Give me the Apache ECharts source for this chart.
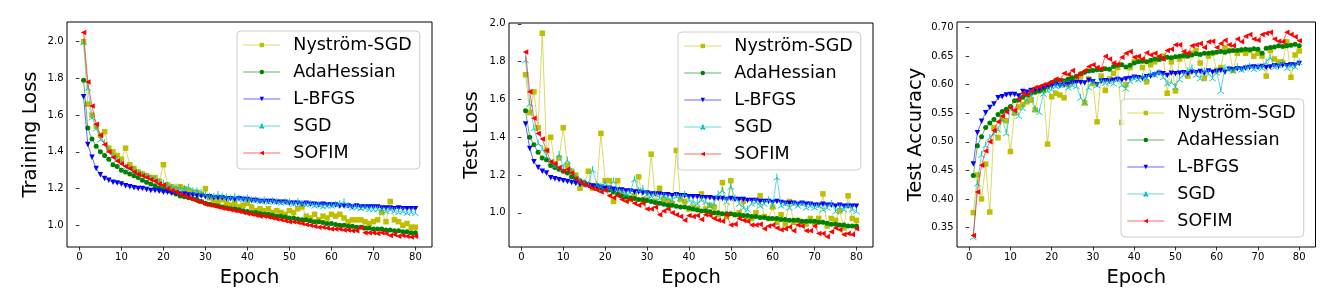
<!DOCTYPE html>
<html>
<head>
<meta charset="utf-8">
<script src="https://cdn.jsdelivr.net/npm/echarts@6/dist/echarts.min.js"></script>
<style>html,body{margin:0;padding:0;background:#fff;}#c{width:1336px;height:308px;}</style>
</head>
<body>
<div id="c"></div>
<script>
const epochs = [1,2,3,4,5,6,7,8,9,10,11,12,13,14,15,16,17,18,19,20,21,22,23,24,25,26,27,28,29,30,31,32,33,34,35,36,37,38,39,40,41,42,43,44,45,46,47,48,49,50,51,52,53,54,55,56,57,58,59,60,61,62,63,64,65,66,67,68,69,70,71,72,73,74,75,76,77,78,79,80];
const seriesNames = ['Nyström-SGD','AdaHessian','L-BFGS','SGD','SOFIM'];
const xTicks = [0,10,20,30,40,50,60,70,80];
const yTicksTrain = [1.0,1.2,1.4,1.6,1.8,2.0];
const yTicksTest = [1.0,1.2,1.4,1.6,1.8,2.0];
const yTicksAcc = [0.35,0.40,0.45,0.50,0.55,0.60,0.65,0.70];
const panelTitles = ['Training Loss','Test Loss','Test Accuracy'];
const xTitle = 'Epoch';

// Training loss
const trainNys = [2.00,1.66,1.60,1.54,1.49,1.51,1.42,1.40,1.38,1.36, 1.42,1.33,1.31,1.29,1.28,1.27,1.26,1.26,1.24,1.33, 1.22,1.21,1.20,1.21,1.20,1.19,1.18,1.18,1.17,1.20, 1.15,1.14,1.13,1.14,1.12,1.11,1.12,1.10,1.11,1.12, 1.10,1.08,1.09,1.08,1.09,1.07,1.08,1.07,1.06,1.08, 1.07,1.09,1.10,1.05,1.04,1.06,1.03,1.05,1.04,1.06, 1.05,1.06,1.04,1.02,1.03,1.03,1.03,1.02,1.01,1.02, 1.03,1.07,1.02,1.13,1.03,1.02,1.00,1.01,0.99,0.99];
const trainAda = [1.79,1.53,1.47,1.43,1.40,1.38,1.36,1.33,1.32,1.30, 1.29,1.28,1.27,1.26,1.245,1.235,1.225,1.215,1.205,1.20, 1.19,1.18,1.17,1.16,1.155,1.15,1.145,1.14,1.13,1.12, 1.115,1.11,1.105,1.10,1.095,1.09,1.09,1.085,1.08,1.075, 1.07,1.07,1.065,1.06,1.06,1.055,1.05,1.05,1.045,1.04, 1.04,1.035,1.03,1.03,1.025,1.02,1.02,1.015,1.01,1.01, 1.005,1.00,1.00,0.995,0.995,0.99,0.99,0.985,0.985,0.98, 0.98,0.98,0.975,0.975,0.97,0.97,0.965,0.965,0.96,0.96];
const trainLbfgs = [1.70,1.44,1.37,1.31,1.275,1.255,1.245,1.235,1.23,1.225, 1.215,1.21,1.205,1.20,1.20,1.195,1.19,1.19,1.185,1.18, 1.18,1.175,1.175,1.17,1.17,1.165,1.165,1.16,1.16,1.155, 1.155,1.15,1.15,1.15,1.145,1.145,1.14,1.145,1.14,1.14, 1.135,1.135,1.13,1.13,1.13,1.13,1.125,1.125,1.125,1.12, 1.12,1.12,1.115,1.12,1.115,1.115,1.11,1.115,1.11,1.11, 1.11,1.105,1.105,1.105,1.10,1.105,1.10,1.10,1.10,1.10, 1.10,1.095,1.095,1.095,1.09,1.095,1.09,1.09,1.09,1.09];
const trainSgd = [2.00,1.75,1.59,1.53,1.47,1.45,1.41,1.38,1.36,1.34, 1.32,1.31,1.30,1.29,1.28,1.27,1.26,1.25,1.24,1.23, 1.22,1.21,1.21,1.20,1.20,1.21,1.19,1.19,1.18,1.17, 1.16,1.16,1.17,1.16,1.155,1.15,1.16,1.15,1.145,1.15, 1.14,1.14,1.135,1.14,1.13,1.135,1.13,1.125,1.13,1.13, 1.12,1.13,1.12,1.115,1.12,1.11,1.115,1.105,1.11,1.11, 1.115,1.12,1.13,1.11,1.10,1.10,1.095,1.10,1.09,1.09, 1.09,1.085,1.08,1.09,1.08,1.075,1.08,1.07,1.075,1.07];
const trainSofim = [2.05,1.78,1.65,1.55,1.49,1.44,1.40,1.37,1.35,1.335, 1.32,1.31,1.29,1.28,1.27,1.26,1.25,1.24,1.225,1.22, 1.20,1.19,1.18,1.17,1.16,1.15,1.14,1.13,1.125,1.115, 1.11,1.105,1.10,1.095,1.09,1.085,1.08,1.075,1.07,1.065, 1.06,1.055,1.05,1.05,1.045,1.04,1.035,1.03,1.025,1.02, 1.02,1.015,1.01,1.005,1.00,0.995,0.99,0.99,0.985,0.98, 0.98,0.98,0.975,0.975,0.97,0.97,0.99,0.96,0.96,0.96, 0.955,0.96,0.955,0.945,0.95,0.94,0.945,0.94,0.937,0.94];

// Test loss
const testNys = [1.73,1.53,1.64,1.45,1.95,1.33,1.40,1.26,1.29,1.45, 1.25,1.22,1.20,1.13,1.15,1.22,1.13,1.14,1.42,1.17, 1.17,1.06,1.17,1.10,1.08,1.07,1.09,1.19,1.06,1.07, 1.31,1.06,1.13,1.07,1.06,1.05,1.33,1.07,1.06,1.02, 1.03,1.02,1.10,1.02,1.04,1.03,0.99,1.16,0.98,1.17, 0.99,1.00,1.06,0.96,0.97,1.00,1.09,0.98,0.97,1.03, 0.95,0.99,0.94,1.06,0.95,0.96,0.95,0.94,0.97,0.95, 0.97,1.10,0.93,0.97,0.96,1.01,0.92,1.09,0.97,0.96];
const testAda = [1.54,1.40,1.36,1.32,1.29,1.28,1.25,1.24,1.23,1.22, 1.21,1.19,1.18,1.17,1.16,1.15,1.145,1.14,1.13,1.125, 1.12,1.11,1.10,1.09,1.085,1.08,1.075,1.07,1.07,1.065, 1.06,1.055,1.05,1.045,1.04,1.04,1.035,1.03,1.03,1.025, 1.02,1.015,1.01,1.01,1.005,1.00,1.00,0.995,0.995,0.995, 0.99,0.99,0.985,0.985,0.98,0.98,0.975,0.975,0.97,0.97, 0.97,0.965,0.965,0.96,0.96,0.96,0.955,0.955,0.955,0.955, 0.95,0.95,0.945,0.94,0.94,0.935,0.935,0.93,0.93,0.93];
const testLbfgs = [1.47,1.34,1.27,1.24,1.22,1.21,1.185,1.18,1.175,1.17, 1.165,1.16,1.155,1.15,1.15,1.145,1.14,1.14,1.135,1.13, 1.13,1.125,1.12,1.12,1.115,1.115,1.11,1.11,1.105,1.105, 1.10,1.10,1.10,1.095,1.095,1.09,1.095,1.09,1.09,1.085, 1.085,1.085,1.08,1.08,1.08,1.075,1.075,1.075,1.07,1.075, 1.07,1.07,1.07,1.065,1.065,1.065,1.06,1.06,1.06,1.055, 1.06,1.055,1.05,1.05,1.05,1.045,1.05,1.045,1.045,1.04, 1.04,1.045,1.04,1.04,1.035,1.04,1.035,1.035,1.035,1.035];
const testSgd = [1.81,1.58,1.45,1.37,1.34,1.30,1.27,1.25,1.31,1.24, 1.28,1.22,1.19,1.17,1.16,1.15,1.23,1.15,1.14,1.16, 1.13,1.17,1.12,1.11,1.10,1.11,1.18,1.12,1.13,1.10, 1.09,1.10,1.08,1.09,1.08,1.07,1.09,1.08,1.10,1.07, 1.06,1.05,1.07,1.06,1.04,1.05,1.10,1.12,1.06,1.14, 1.08,1.05,1.03,1.02,1.05,1.06,1.04,1.05,1.07,1.04, 1.19,1.04,1.05,1.03,1.05,1.04,1.05,1.03,1.04,1.03, 1.04,1.02,1.03,1.05,1.01,1.03,1.02,1.04,1.02,1.01];
const testSofim = [1.85,1.64,1.50,1.42,1.39,1.33,1.27,1.26,1.24,1.22, 1.23,1.21,1.18,1.16,1.15,1.14,1.13,1.12,1.11,1.12, 1.09,1.08,1.09,1.07,1.06,1.07,1.05,1.04,1.05,1.02, 1.02,1.03,0.99,1.01,1.02,1.00,0.99,0.98,0.96,0.985, 0.98,0.985,0.965,0.99,0.985,0.97,0.96,0.955,0.99,0.935, 0.94,0.97,0.96,0.955,0.935,0.935,0.94,0.915,0.93,0.935, 0.92,0.91,0.915,0.925,0.905,0.935,0.93,0.905,0.905,0.93, 0.89,0.89,0.873,0.90,0.92,0.91,0.885,0.89,0.885,0.915];

// Test accuracy
const accNys = [0.376,0.442,0.400,0.461,0.377,0.525,0.507,0.540,0.537,0.483, 0.550,0.561,0.565,0.570,0.573,0.556,0.590,0.590,0.496,0.579, 0.585,0.582,0.577,0.600,0.605,0.610,0.615,0.568,0.610,0.602, 0.535,0.615,0.590,0.610,0.620,0.630,0.534,0.600,0.630,0.640, 0.645,0.630,0.605,0.635,0.640,0.645,0.650,0.585,0.640,0.589, 0.645,0.650,0.615,0.655,0.660,0.638,0.611,0.650,0.655,0.625, 0.630,0.665,0.660,0.625,0.655,0.660,0.655,0.660,0.650,0.655, 0.650,0.615,0.660,0.645,0.640,0.639,0.675,0.613,0.652,0.659];
const accAda = [0.441,0.493,0.509,0.525,0.533,0.539,0.548,0.553,0.557,0.562, 0.572,0.573,0.578,0.582,0.585,0.587,0.589,0.592,0.596,0.604, 0.607,0.608,0.607,0.610,0.612,0.615,0.619,0.622,0.624,0.625, 0.626,0.626,0.628,0.627,0.632,0.634,0.635,0.631,0.634,0.638, 0.640,0.641,0.640,0.643,0.645,0.644,0.646,0.648,0.647,0.649, 0.650,0.651,0.650,0.652,0.654,0.653,0.655,0.655,0.656,0.657, 0.658,0.657,0.659,0.660,0.660,0.661,0.662,0.661,0.663,0.662, 0.655,0.664,0.665,0.666,0.668,0.667,0.668,0.669,0.671,0.668];
const accLbfgs = [0.461,0.516,0.536,0.551,0.560,0.566,0.577,0.579,0.582,0.583, 0.583,0.580,0.588,0.587,0.590,0.591,0.592,0.595,0.598,0.597, 0.600,0.598,0.599,0.601,0.603,0.604,0.604,0.603,0.608,0.605, 0.600,0.606,0.607,0.606,0.608,0.609,0.608,0.610,0.611,0.613, 0.612,0.611,0.614,0.615,0.617,0.620,0.619,0.616,0.620,0.619, 0.620,0.621,0.619,0.622,0.621,0.623,0.620,0.624,0.622,0.623, 0.625,0.622,0.627,0.626,0.628,0.627,0.629,0.630,0.631,0.630, 0.632,0.630,0.631,0.633,0.632,0.634,0.633,0.635,0.634,0.637];
const accSgd = [0.334,0.428,0.478,0.495,0.508,0.515,0.522,0.540,0.516,0.558, 0.553,0.546,0.560,0.575,0.582,0.558,0.553,0.585,0.590,0.593, 0.598,0.600,0.602,0.596,0.600,0.598,0.578,0.570,0.596,0.605, 0.600,0.608,0.604,0.606,0.603,0.610,0.600,0.594,0.607,0.612, 0.610,0.615,0.612,0.620,0.618,0.622,0.614,0.603,0.605,0.597, 0.610,0.618,0.625,0.630,0.618,0.612,0.625,0.620,0.612,0.622, 0.590,0.630,0.628,0.625,0.632,0.627,0.630,0.633,0.628,0.632, 0.630,0.640,0.648,0.632,0.635,0.640,0.630,0.634,0.632,0.640];
const accSofim = [0.336,0.412,0.459,0.484,0.500,0.520,0.535,0.545,0.552,0.560, 0.555,0.575,0.585,0.582,0.590,0.595,0.597,0.600,0.602,0.605, 0.610,0.608,0.620,0.618,0.625,0.615,0.620,0.625,0.632,0.635, 0.630,0.628,0.650,0.645,0.638,0.636,0.648,0.655,0.658,0.648, 0.650,0.645,0.656,0.652,0.655,0.650,0.645,0.660,0.662,0.670, 0.670,0.658,0.655,0.668,0.670,0.672,0.665,0.675,0.676,0.665, 0.672,0.678,0.670,0.668,0.680,0.675,0.685,0.688,0.680,0.678, 0.688,0.690,0.692,0.680,0.676,0.675,0.692,0.688,0.684,0.677];

const panels = [
  [trainNys, trainAda, trainLbfgs, trainSgd, trainSofim],
  [testNys, testAda, testLbfgs, testSgd, testSofim],
  [accNys, accAda, accLbfgs, accSgd, accSofim]
];

const FONT = 'DejaVu Sans';
const colors = ['#bfbf00','#008000','#0000ff','#00bfbf','#ff0000'];
const symbols = [
  'rect',
  'circle',
  'path://M0,0 L2,0 L1,2 Z',
  'path://M0,0 L0,-2 M0,0 L1.732,1 M0,0 L-1.732,1',
  'path://M2,0 L2,2 L0,1 Z'
];
const symbolSizes = [5.5, 5, 5.5, 6.5, 5.5];

const grids = [
  {left: 67, top: 22, width: 365, height: 225},
  {left: 509, top: 23, width: 364, height: 224},
  {left: 957, top: 22, width: 358.5, height: 225}
];
const yRanges = [[0.882, 2.107], [0.819, 2.004], [0.3158, 0.7098]];
const yTickSets = [yTicksTrain, yTicksTest, yTicksAcc];
const yDecimals = [1, 1, 2];
const yNameGaps = [26, 27, 31];
const legendPos = [{left: 237, top: 31}, {left: 678, top: 32}, {left: 1121, top: 99}];

const option = {
  animation: false,
  backgroundColor: '#ffffff',
  grid: grids.map(g => Object.assign({show: true, borderColor: '#000', borderWidth: 1, backgroundColor: 'transparent', containLabel: false}, g)),
  xAxis: grids.map((g, i) => ({
    type: 'value', gridIndex: i, min: -2.95, max: 83.95,
    name: xTitle, nameLocation: 'middle', nameGap: 21,
    nameTextStyle: {fontFamily: FONT, fontSize: 19.5, color: '#000'},
    axisLine: {show: false},
    axisTick: {show: true, inside: false, length: 3.5, lineStyle: {color: '#000', width: 0.8}, customValues: xTicks},
    axisLabel: {show: true, margin: 5, fontFamily: FONT, fontSize: 10, color: '#000', customValues: xTicks},
    splitLine: {show: false}
  })),
  yAxis: grids.map((g, i) => ({
    type: 'value', gridIndex: i, min: yRanges[i][0], max: yRanges[i][1],
    name: panelTitles[i], nameLocation: 'middle', nameGap: yNameGaps[i],
    nameTextStyle: {fontFamily: FONT, fontSize: 19.5, color: '#000'},
    axisLine: {show: false},
    axisTick: {show: true, inside: false, length: 3.5, lineStyle: {color: '#000', width: 0.8}, customValues: yTickSets[i]},
    axisLabel: {show: true, margin: 3.5, fontFamily: FONT, fontSize: 10, color: '#000', customValues: yTickSets[i],
      formatter: v => Number(v).toFixed(yDecimals[i])},
    splitLine: {show: false}
  })),
  legend: legendPos.map(p => ({
    orient: 'vertical', left: p.left, top: p.top,
    padding: [4, 8, 6, 6], itemGap: 7, itemWidth: 37, itemHeight: 5.5,
    backgroundColor: 'rgba(255,255,255,0.8)', borderColor: '#cccccc', borderWidth: 1, borderRadius: 4,
    lineStyle: {width: 0.6},
    textStyle: {fontFamily: FONT, fontSize: 17.5, color: '#000', lineHeight: 20, padding: [0, 0, 0, 8]},
    data: seriesNames
  })),
  series: []
};

panels.forEach((vals, pi) => {
  vals.forEach((arr, si) => {
    option.series.push({
      type: 'line', name: seriesNames[si], xAxisIndex: pi, yAxisIndex: pi,
      data: epochs.map((e, k) => [e, arr[k]]),
      symbol: symbols[si], symbolSize: symbolSizes[si], showSymbol: true,
      lineStyle: {color: colors[si], width: 0.6},
      itemStyle: si === 3 ? {color: colors[si], borderColor: colors[si], borderWidth: 0.9} : {color: colors[si]},
      emphasis: {disabled: true},
      z: 2 + si
    });
  });
});

const chart = echarts.init(document.getElementById('c'), null, {renderer: 'canvas'});
chart.setOption(option);
</script>
</body>
</html>
